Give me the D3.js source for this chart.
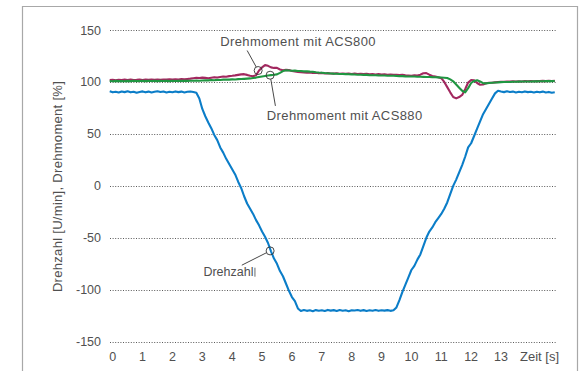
<!DOCTYPE html>
<html>
<head>
<meta charset="utf-8">
<script src="https://cdn.jsdelivr.net/npm/d3@7"></script>
<style>
  html, body { margin: 0; padding: 0; background: #fff; }
  svg text { font-family: "Liberation Sans", Arial, Helvetica, sans-serif; fill: #505050; }
</style>
</head>
<body>
<svg id="chart" width="587" height="371"></svg>
<script>
// ---- data ----
const sampleStart = -0.1;   // seconds
const sampleStep = 0.1;     // seconds between samples
const xTicks = [0,1,2,3,4,5,6,7,8,9,10,11,12,13];
const yTicks = [150,100,50,0,-50,-100,-150];
const xTitle = "Zeit [s]";
const yTitle = "Drehzahl [U/min], Drehmoment [%]";

const drehzahl = [
  91, 90, 90.5, 89.8, 90.8, 90.2, 91, 90, 90.6, 89.6,
  90.4, 90.9, 90, 90.7, 89.8, 90.5, 91.1, 90.3, 90.8, 89.9,
  90.6, 90.1, 90.9, 90.2, 90.7, 89.9, 90.5, 90.8, 90.3, 89.5,
  84, 74, 67, 61, 55.5, 49, 44, 37, 32, 26,
  21, 16, 11, 4, -2, -10, -17, -22, -27, -33,
  -38, -44, -49, -55, -63, -70, -75, -82, -87, -94,
  -101, -107, -111, -118, -120.5, -119.5, -120.3, -119.8, -120.6, -119.6,
  -120.2, -119.7, -120.5, -119.4, -120.1, -119.6, -120.4, -119.5, -120.2, -119.8,
  -120.6, -119.7, -120, -119.5, -120.3, -119.6, -120.4, -119.8, -120.2, -119.5,
  -120.3, -119.7, -120.1, -119.6, -120.3, -119.8, -117, -110, -102, -95,
  -88, -81, -77, -71, -66, -58, -50, -44, -40, -35,
  -31, -27, -22, -16, -8, 0, 6, 13, 20, 28,
  37, 41, 48, 55, 62, 69, 74, 79, 84, 89,
  91.5, 90.8, 90.2, 91, 90.3, 90.7, 89.9, 90.6, 90.1, 90.9,
  90.2, 90.5, 89.8, 90.6, 90, 90.7, 89.9, 90.4, 89.6, 90.1
];

const drehmomentACS800 = [
  101.8, 102, 101.6, 102.1, 101.8, 102.2, 101.9, 102.3, 101.8, 102,
  102.3, 101.9, 102.2, 102, 102.4, 102.1, 102.3, 102, 102.4, 102.2,
  102.5, 102.3, 102.6, 102.4, 102.7, 102.6, 102.9, 103.2, 103.6, 104,
  103.8, 104.2, 103.9, 103.6, 104.1, 104.6, 104.3, 104.8, 105.3, 105,
  105.6, 105.9, 106.3, 106.8, 107.3, 107.5, 106.8, 105.9, 105.5, 106.5,
  111, 114, 116.2, 115.5, 114, 113.5, 113.6, 112, 111.2, 111.6,
  111.4, 110.6, 110.2, 109.7, 109.3, 109.1, 108.9, 109.2, 108.6, 108.8,
  108.3, 108.7, 108.2, 108.5, 108.2, 108, 108.4, 107.9, 108.1, 107.8,
  108.2, 107.7, 108, 107.6, 107.9, 107.5, 107.8, 107.3, 107.6, 107.2,
  107.5, 107.1, 107.4, 107, 107.2, 106.8, 107, 106.6, 106.9, 106.4,
  106.2, 106, 106.4, 106.1, 107, 108.4, 108.5, 107, 105.8, 105.3,
  104.6, 103.6, 100, 95, 90, 85.5, 84.2, 85.5, 87.5, 93,
  99.5, 101.8, 101.5, 99, 97.3, 97.5, 98.7, 99.3, 99.2, 99.6,
  99.9, 100.2, 100.1, 100.4, 100.3, 100.6, 100.4, 100.7, 100.5, 100.8,
  100.6, 100.9, 100.7, 100.9, 100.8, 101, 100.8, 101.1, 100.9, 101
];

const drehmomentACS880 = [
  100.9, 100.7, 101, 100.8, 100.9, 100.7, 101, 100.8, 101.1, 100.8,
  100.9, 101, 100.8, 101.1, 100.9, 101, 100.8, 101.1, 100.9, 101,
  100.8, 101.1, 100.9, 101.1, 101, 101.2, 101, 101.2, 101.1, 101.3,
  101.2, 101.4, 101.6, 101.5, 101.8, 101.7, 102, 101.9, 102.2, 102.3,
  102.2, 102.5, 102.4, 102.7, 102.8, 103, 103.2, 103.4, 103.8, 104.2,
  104.8, 105.3, 105.8, 106.2, 106.6, 106.9, 107.3, 108.8, 110.5, 111.2,
  111, 110.8, 110.9, 110.6, 110.5, 110.2, 110.3, 109.9, 109.8, 109.4,
  109.1, 108.9, 108.6, 108.4, 108.2, 108, 107.9, 107.7, 107.6, 107.5,
  107.4, 107.3, 107.2, 107, 106.9, 106.8, 106.8, 106.6, 106.5, 106.5,
  106.3, 106.2, 106.2, 106, 105.9, 105.9, 105.8, 105.6, 105.6, 105.4,
  105.3, 105.2, 105.2, 105, 105, 104.9, 104.8, 104.8, 104.6, 104.5,
  104.4, 104.3, 104.1, 103.8, 102.5, 100.6, 97.5, 94.5, 91.5, 90,
  94, 99, 101, 101.6, 100.5, 98.8, 98.6, 99, 99.3, 99.5,
  99.6, 99.8, 99.9, 100, 100, 100.2, 100.2, 100.3, 100.4, 100.4,
  100.5, 100.5, 100.6, 100.6, 100.7, 100.7, 100.8, 100.8, 100.8, 100.9
];

// annotation anchors (time, value) on the curves
const annotations = [
  { label: "Drehmoment mit ACS800", t: 4.87, v: 111, lx: -11, ly: -20, tx: -38, ty: -25, size: 13, ls: 0.4, bar: false },
  { label: "Drehmoment mit ACS880", t: 5.27, v: 106.5, lx: 5.3, ly: 30.7, tx: -3.3, ty: 45, size: 13, ls: 0.4, bar: false },
  { label: "Drehzahl", t: 5.27, v: -62.6, lx: -28.3, ly: 14.3, tx: -66.7, ty: 24.8, size: 12.5, ls: 0, bar: true }
];

// ---- chart ----
const svg = d3.select("#chart");
const x = d3.scaleLinear().domain([0, 13]).range([112.7, 501]);
const y = d3.scaleLinear().domain([-150, 150]).range([341.7, 30]);
const tMin = -0.09, tMax = 14.84;

// frame
svg.append("path")
  .attr("d", "M22.5,372 V6.5 H577.5 V372")
  .attr("fill", "none")
  .attr("stroke", "#a8a8a8")
  .attr("stroke-width", 1.2);

// gridlines
svg.append("g").selectAll("line").data(yTicks).join("line")
  .attr("x1", x(tMin)).attr("x2", x(tMax))
  .attr("y1", d => Math.round(y(d)) + 0.5).attr("y2", d => Math.round(y(d)) + 0.5)
  .attr("stroke", "#5a5a5a")
  .attr("stroke-width", 1)
  .attr("stroke-dasharray", "1,1.6");

// y tick labels
svg.append("g").selectAll("text").data(yTicks).join("text")
  .attr("x", 101).attr("y", d => y(d) + 4.5)
  .attr("text-anchor", "end")
  .attr("font-size", 12.5)
  .text(d => d);

// x tick labels
svg.append("g").selectAll("text").data(xTicks).join("text")
  .attr("x", d => x(d)).attr("y", 361)
  .attr("text-anchor", "middle")
  .attr("font-size", 12.5)
  .text(d => d);

svg.append("text")
  .attr("x", 520).attr("y", 361)
  .attr("font-size", 13)
  .text(xTitle);

svg.append("text")
  .attr("transform", "translate(61.5,186.5) rotate(-90)")
  .attr("text-anchor", "middle")
  .attr("font-size", 13)
  .attr("letter-spacing", 0.3)
  .text(yTitle);

// lines
const mk = arr => arr.map((v, i) => ({ t: sampleStart + i * sampleStep, v }));
const line = d3.line().x(d => x(d.t)).y(d => y(d.v));

const series = [
  { data: drehzahl, color: "#0b7dc8" },
  { data: drehmomentACS800, color: "#a2285f" },
  { data: drehmomentACS880, color: "#1f9641" }
];
svg.append("g").selectAll("path").data(series).join("path")
  .attr("d", d => line(mk(d.data)))
  .attr("fill", "none")
  .attr("stroke", d => d.color)
  .attr("stroke-width", 2.1)
  .attr("stroke-linejoin", "round");

// annotations
const ag = svg.append("g");
annotations.forEach(a => {
  const cx = x(a.t), cy = y(a.v), r = 4;
  const len = Math.hypot(a.lx, a.ly);
  ag.append("line")
    .attr("x1", cx + a.lx / len * r).attr("y1", cy + a.ly / len * r)
    .attr("x2", cx + a.lx).attr("y2", cy + a.ly)
    .attr("stroke", "#333").attr("stroke-width", 0.9);
  ag.append("circle")
    .attr("cx", cx).attr("cy", cy).attr("r", r)
    .attr("fill", "none").attr("stroke", "#333").attr("stroke-width", 0.9);
  const txt = ag.append("text")
    .attr("x", cx + a.tx).attr("y", cy + a.ty)
    .attr("font-size", a.size)
    .attr("letter-spacing", a.ls)
    .text(a.label);
  if (a.bar) {
    const bb = txt.node().getBBox();
    ag.append("line")
      .attr("x1", bb.x + bb.width + 1.5).attr("x2", bb.x + bb.width + 1.5)
      .attr("y1", cy + a.ty - 8).attr("y2", cy + a.ty + 1)
      .attr("stroke", "#444").attr("stroke-width", 0.8);
  }
});
</script>
</body>
</html>
